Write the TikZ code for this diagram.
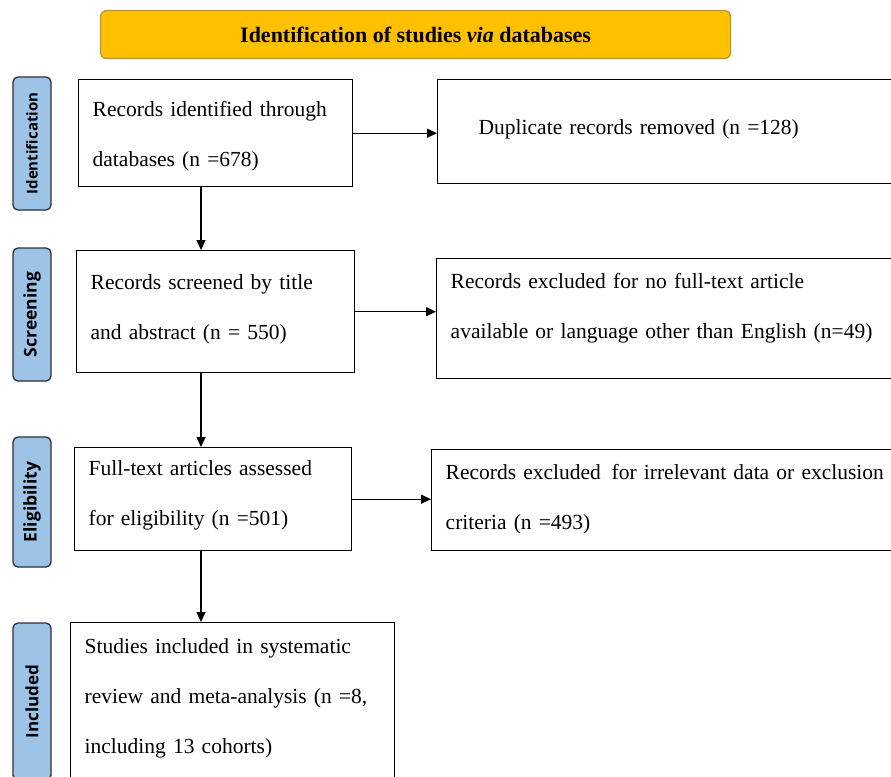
\documentclass[tikz,border=0pt]{standalone}
\usepackage{fontspec}
\setmainfont{Liberation Serif}
\newfontfamily\phasefont{Open Sans}
\usetikzlibrary{arrows.meta,positioning}
\definecolor{BannerGold}{HTML}{FFC000}
\definecolor{BannerEdge}{HTML}{B8922A}
\definecolor{PhaseBlue}{HTML}{9DC3E6}
\definecolor{PhaseEdge}{HTML}{2B2F36}

\begin{document}
\begin{tikzpicture}[
  x=1pt, y=-1pt,
  box/.style={draw=black, line width=1.4pt, anchor=north west, align=left, inner xsep=14pt, inner ysep=0pt, text height=15pt, font=\fontsize{21.5}{50}\selectfont},
  phase/.style={draw=PhaseEdge, line width=1.3pt, fill=PhaseBlue, rounded corners=5pt, rotate=90, minimum height=38pt, inner sep=0pt},
  banner/.style={draw=BannerEdge, line width=1.2pt, fill=BannerGold, rounded corners=6pt, anchor=north west, minimum width=630pt, minimum height=48pt, font=\bfseries\fontsize{22}{24}\selectfont},
  arrow/.style={-{Triangle[length=10pt,width=9pt]}, line width=1.3pt, draw=black}
]
  \clip (0,0) rectangle (891,776);

  \node[banner] (title) at (100,10) {Identification of studies \textit{via} databases};

  % phase labels on the left
  \node[phase, minimum width=133pt, font=\phasefont\bfseries\fontsize{15}{16}\selectfont] (identification) at (32,143.5) {Identification};
  \node[phase, minimum width=133pt, font=\phasefont\bfseries\fontsize{17.5}{18}\selectfont] (screening) at (32,314.5) {Screening};
  \node[phase, minimum width=130pt, font=\phasefont\bfseries\fontsize{17.5}{18}\selectfont] (eligibility) at (32,502) {Eligibility};
  \node[phase, minimum width=157pt, font=\phasefont\bfseries\fontsize{17}{18}\selectfont] (included) at (32,701.5) {Included};

  % main column
  \node[box, minimum width=274pt, minimum height=107pt, text width=246pt, text depth=49pt] (records) at (78,79) {Records identified through\\databases (n =678)};
  \node[box, minimum width=278pt, minimum height=122pt, text width=250pt, text depth=60pt] (screened) at (76,250) {Records screened by title\\and abstract (n = 550)};
  \node[box, minimum width=277pt, minimum height=103pt, text width=249pt, text depth=63pt] (fulltext) at (74,447) {Full-text articles assessed\\for eligibility (n =501)};
  \node[box, minimum width=324pt, minimum height=170pt, text width=296pt, text depth=124pt] (studies) at (70,622) {Studies included in systematic\\review and meta-analysis (n =8,\\including 13 cohorts)};

  % exclusion column
  \node[box, inner xsep=41pt, minimum width=500pt, minimum height=104pt, text width=418pt, text depth=10pt] (duplicates) at (437,79) {Duplicate records removed (n =128)};
  \node[box, minimum width=500pt, minimum height=120pt, text width=472pt, text depth=76pt] (nofulltext) at (436,258) {Records excluded for no full-text article\\available or language other than English (n=49)};
  \node[box, minimum width=500pt, minimum height=101pt, text width=472pt, text depth=57pt] (irrelevant) at (431,449) {Records excluded\, for irrelevant data or exclusion\\criteria (n =493)};

  \coordinate (spine) at (201,0);

  \draw[arrow] (records.east) -- (records.east -| duplicates.west);
  \draw[arrow] (screened.east) -- (screened.east -| nofulltext.west);
  \draw[arrow] (fulltext.east) -- (fulltext.east -| irrelevant.west);

  \draw[arrow] (spine |- records.south) -- (spine |- screened.north);
  \draw[arrow] (spine |- screened.south) -- (spine |- fulltext.north);
  \draw[arrow] (spine |- fulltext.south) -- (spine |- studies.north);
\end{tikzpicture}
\end{document}
